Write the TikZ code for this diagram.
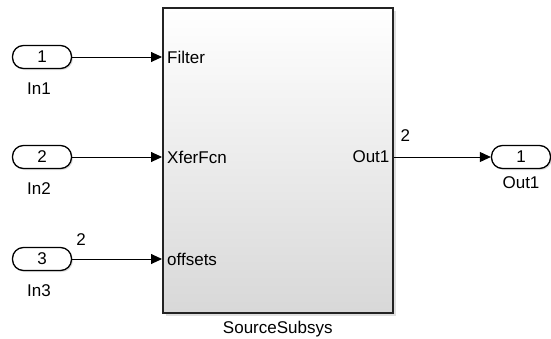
\documentclass[tikz,border=0pt]{standalone}
\usepackage{fontspec}
\setmainfont{Liberation Sans}
\usetikzlibrary{arrows.meta,positioning,shadows}
\definecolor{boxgray}{RGB}{216,216,216}
\definecolor{edgegray}{RGB}{35,35,35}
\newcommand{\blkfont}{\fontsize{17}{20}\selectfont}

\begin{document}
\begin{tikzpicture}[x=1pt, y=-1pt,
    port/.style={draw, line width=1.3pt, fill=white, rounded corners=11pt,
                 minimum width=59pt, minimum height=23pt, inner sep=0pt, font=\blkfont,
                 drop shadow={shadow xshift=1.5pt, shadow yshift=-1.5pt, opacity=0.25}},
    lbl/.style={inner sep=1pt, font=\blkfont},
    sig/.style={line width=0.9pt, -{Triangle[length=11pt,width=10pt]}}
]
    \useasboundingbox (0,0) rectangle (551,338);
    \node[draw=edgegray, line width=1.6pt, top color=white, bottom color=boxgray,
          minimum width=230pt, minimum height=305pt, anchor=north west,
          drop shadow={shadow xshift=3pt, shadow yshift=-3pt, opacity=0.25}] (subsys) at (162,7) {};
    \node[lbl, below=6pt of subsys] (subsyslbl) {SourceSubsys};

    \node[port] (in1) at (42,57) {1};
    \node[port] (in2) at (42,157) {2};
    \node[port] (in3) at (42,259) {3};
    \node[port] (out1) at (521,157) {1};
    \node[lbl, below=12pt of in1, xshift=-3pt] (in1lbl) {In1};
    \node[lbl, below=12pt of in2, xshift=-3pt] (in2lbl) {In2};
    \node[lbl, below=12pt of in3, xshift=-3pt] (in3lbl) {In3};
    \node[lbl, below=6pt of out1] (out1lbl) {Out1};

    \node[lbl, anchor=west, xshift=4pt] (pfilter) at (subsys.west |- in1) {Filter};
    \node[lbl, anchor=west, xshift=4pt] (pxfer) at (subsys.west |- in2) {XferFcn};
    \node[lbl, anchor=west, xshift=4pt] (poffs) at (subsys.west |- in3) {offsets};
    \node[lbl, anchor=east, xshift=-3pt] (pout) at (subsys.east |- out1) {Out1};

    \draw[sig] (in1) -- (in1 -| subsys.west);
    \draw[sig] (in2) -- (in2 -| subsys.west);
    \draw[sig] (in3) -- node[lbl, pos=0.1, above=12pt] {2} (in3 -| subsys.west);
    \draw[sig] (subsys.east |- out1) -- node[lbl, pos=0.12, above=14pt] {2} (out1);
\end{tikzpicture}
\end{document}
